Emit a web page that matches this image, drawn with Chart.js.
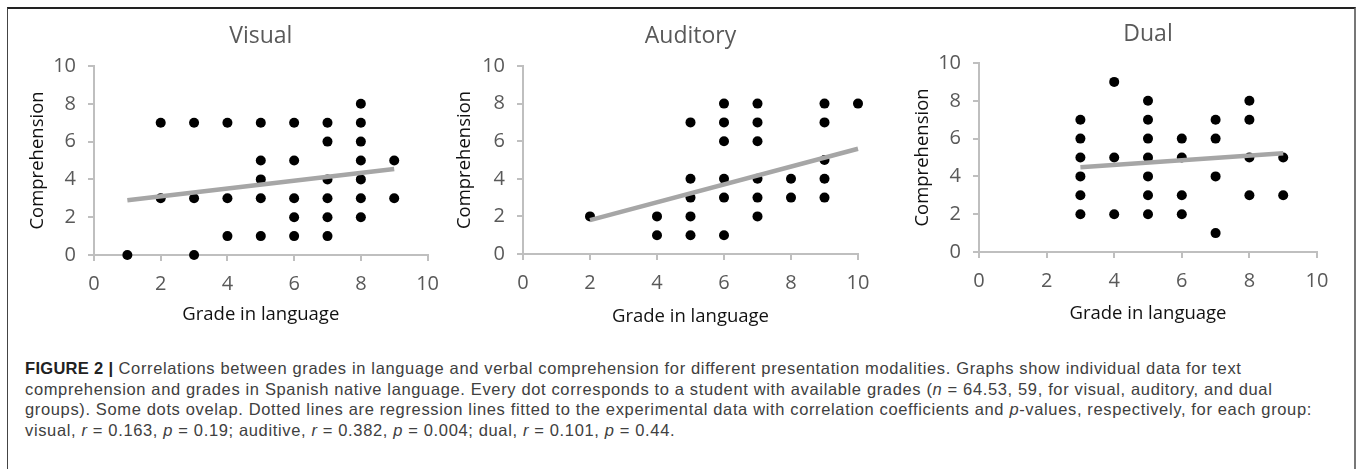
<!DOCTYPE html>
<html lang="en">
<head>
<meta charset="UTF-8">
<title>Figure 2</title>
<script src="https://cdn.jsdelivr.net/npm/chart.js"></script>
<style>
  body { margin: 0; background: #fff; width: 1358px; height: 469px; overflow: hidden; position: relative; }
  .frame { position: absolute; left: 7px; top: 7px; width: 1346px; height: 480px;
           border-top: 2px solid #222; border-left: 1.5px solid #444; border-right: 2px solid #777; }
  .panel { position: absolute; }
  .caption { position: absolute; left: 25px; top: 358px; font-family: "Liberation Sans", Arial, sans-serif;
             font-size: 16.5px; letter-spacing: 0.64px; line-height: 20.7px; color: #404040; white-space: nowrap; }
  .caption b { color: #222; letter-spacing: 0.3px; }
</style>
</head>
<body>
<div class="frame"></div>

<div class="panel" style="left:10px;top:10px;width:440px;height:325px"><canvas id="visual"></canvas></div>
<div class="panel" style="left:450px;top:10px;width:440px;height:325px"><canvas id="auditory"></canvas></div>
<div class="panel" style="left:895px;top:10px;width:455px;height:325px"><canvas id="dual"></canvas></div>

<div class="caption">
  <div><b>FIGURE 2 |</b> Correlations between grades in language and verbal comprehension for different presentation modalities. Graphs show individual data for text</div>
  <div>comprehension and grades in Spanish native language. Every dot corresponds to a student with available grades (<i>n</i> = 64.53, 59, for visual, auditory, and dual</div>
  <div>groups). Some dots ovelap. Dotted lines are regression lines fitted to the experimental data with correlation coefficients and <i>p</i>-values, respectively, for each group:</div>
  <div>visual, <i>r</i> = 0.163, <i>p</i> = 0.19; auditive, <i>r</i> = 0.382, <i>p</i> = 0.004; dual, <i>r</i> = 0.101, <i>p</i> = 0.44.</div>
</div>

<script>
// data
const visualGrade = [1, 2, 2, 3, 3, 3, 4, 4, 4, 5, 5, 5, 5, 5, 6, 6, 6, 6, 6, 7, 7, 7, 7, 7, 7, 8, 8, 8, 8, 8, 8, 8, 9, 9];
const visualComp  = [0, 7, 3, 7, 3, 0, 7, 3, 1, 7, 5, 4, 3, 1, 7, 5, 3, 2, 1, 7, 6, 4, 3, 2, 1, 8, 7, 6, 5, 4, 3, 2, 5, 3];
const visualFitX = [1, 9];
const visualFitY = [2.9, 4.55];

const auditoryGrade = [2, 4, 4, 5, 5, 5, 5, 5, 6, 6, 6, 6, 6, 6, 7, 7, 7, 7, 7, 7, 8, 8, 9, 9, 9, 9, 9, 10];
const auditoryComp  = [2, 2, 1, 7, 4, 3, 2, 1, 8, 7, 6, 4, 3, 1, 8, 7, 6, 4, 3, 2, 4, 3, 8, 7, 5, 4, 3, 8];
const auditoryFitX = [2, 10];
const auditoryFitY = [1.8, 5.6];

const dualGrade = [3, 3, 3, 3, 3, 3, 4, 4, 4, 5, 5, 5, 5, 5, 5, 5, 6, 6, 6, 6, 7, 7, 7, 7, 8, 8, 8, 8, 9, 9];
const dualComp  = [7, 6, 5, 4, 3, 2, 9, 5, 2, 8, 7, 6, 5, 4, 3, 2, 6, 5, 3, 2, 7, 6, 4, 1, 8, 7, 5, 3, 5, 3];
const dualFitX = [3, 9];
const dualFitY = [4.48, 5.22];

const xTitle = 'Grade in language';
const yTitle = 'Comprehension';
const axisMin = 0, axisMax = 10, axisStep = 2;

const toPoints = (xs, ys) => xs.map((x, i) => ({ x: x, y: ys[i] }));

function makePanel(id, title, grades, comps, fitX, fitY, g) {
  const tickFont = { family: 'Open Sans', size: 20 };
  const titleFont = { family: 'Open Sans', size: 18.5 };
  new Chart(document.getElementById(id), {
    type: 'scatter',
    data: {
      datasets: [
        {
          type: 'line',
          data: toPoints(fitX, fitY),
          borderColor: '#a6a6a6',
          borderWidth: 4.5,
          pointRadius: 0,
          fill: false,
          clip: false,
          order: 0
        },
        {
          data: toPoints(grades, comps),
          backgroundColor: '#000',
          borderWidth: 0,
          pointRadius: 5,
          clip: false,
          order: 1
        }
      ]
    },
    options: {
      responsive: true,
      maintainAspectRatio: false,
      animation: false,
      layout: { padding: { left: 0, right: g.padRight, top: 0, bottom: 0 } },
      plugins: {
        legend: { display: false },
        tooltip: { enabled: false },
        title: {
          display: true,
          text: title,
          fullSize: false,
          color: '#595959',
          font: { family: 'Open Sans', size: 23, weight: 'normal' },
          padding: { top: g.titleTop, bottom: g.titleBottom }
        }
      },
      scales: {
        x: {
          type: 'linear',
          min: axisMin, max: axisMax,
          ticks: { stepSize: axisStep, color: '#595959', font: tickFont, padding: 11, maxRotation: 0 },
          grid: { drawOnChartArea: false, drawTicks: true, tickLength: 6, color: '#bfbfbf', lineWidth: 2 },
          border: { color: '#bfbfbf', width: 2 },
          title: { display: true, text: xTitle, color: '#111', font: titleFont, padding: { top: 0, bottom: g.xTitleBottom } },
          afterFit: (s) => { s.height = g.xAxisHeight; }
        },
        y: {
          type: 'linear',
          min: axisMin, max: axisMax,
          ticks: { stepSize: axisStep, color: '#595959', font: tickFont, padding: 12 },
          grid: { drawOnChartArea: false, drawTicks: true, tickLength: 6, color: '#bfbfbf', lineWidth: 2 },
          border: { color: '#bfbfbf', width: 2 },
          title: { display: true, text: yTitle, color: '#111', font: titleFont, padding: { top: g.yTitleLeft, bottom: 0 } },
          afterFit: (s) => { s.width = g.yAxisWidth; }
        }
      }
    }
  });
}

makePanel('visual', 'Visual', visualGrade, visualComp, visualFitX, visualFitY,
  { padRight: 18, titleTop: 13, titleBottom: 15.4, xAxisHeight: 80, xTitleBottom: 9, yAxisWidth: 84, yTitleLeft: 17 });
makePanel('auditory', 'Auditory', auditoryGrade, auditoryComp, auditoryFitX, auditoryFitY,
  { padRight: 32, titleTop: 13, titleBottom: 15.4, xAxisHeight: 81, xTitleBottom: 7, yAxisWidth: 73, yTitleLeft: 4 });
makePanel('dual', 'Dual', dualGrade, dualComp, dualFitX, dualFitY,
  { padRight: 33, titleTop: 11, titleBottom: 14.4, xAxisHeight: 83, xTitleBottom: 10, yAxisWidth: 84, yTitleLeft: 17 });
</script>
</body>
</html>
